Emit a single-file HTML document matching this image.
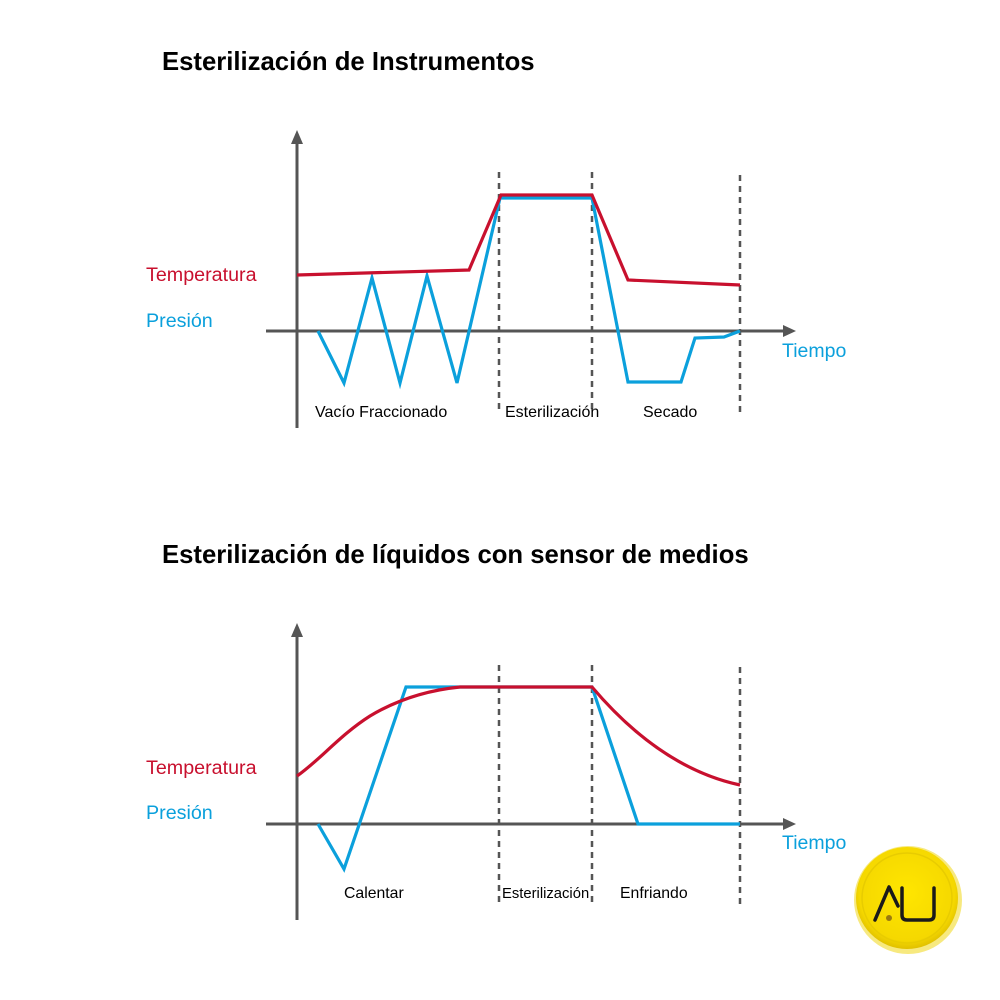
<!DOCTYPE html>
<html><head><meta charset="utf-8"><style>
body{margin:0;background:#fff;}
svg{display:block}
text{font-family:"Liberation Sans",Arial,sans-serif}
</style></head><body>
<svg width="1000" height="1000" viewBox="0 0 1000 1000">
<defs>
<radialGradient id="g" cx="50%" cy="45%" r="55%"><stop offset="0" stop-color="#ffe600"/><stop offset="0.85" stop-color="#f5d800"/><stop offset="1" stop-color="#e0c000"/></radialGradient>
</defs>
<rect width="1000" height="1000" fill="#fff"/>
<text x="162" y="70" font-size="25.7" font-weight="bold" fill="#000">Esterilización de Instrumentos</text>
<text x="162" y="563" font-size="25.7" font-weight="bold" fill="#000">Esterilización de líquidos con sensor de medios</text>

<g id="c1">
<g stroke="#555" stroke-width="3" fill="none">
<line x1="297" y1="140" x2="297" y2="428"/>
<line x1="266" y1="331" x2="788" y2="331"/>
</g>
<polygon points="297,130 291,144 303,144" fill="#555"/>
<polygon points="796,331 783,325 783,337" fill="#555"/>
<g stroke="#555" stroke-width="2.5" stroke-dasharray="6,5">
<line x1="499" y1="172" x2="499" y2="412"/>
<line x1="592" y1="172" x2="592" y2="412"/>
<line x1="740" y1="175" x2="740" y2="412"/>
</g>
<polyline points="318,331 344,383 372,278 400,383 427,276 457,383 500,198 592,198 628,382 681,382 695,338 724,337 740,331" fill="none" stroke="#0ba0dc" stroke-width="3.2" stroke-linejoin="miter"/>
<polyline points="297,275 469,270 501,195 592,195 628,280 740,285" fill="none" stroke="#c8102e" stroke-width="3.2"/>
<text x="146" y="281" font-size="19.7" fill="#c8102e">Temperatura</text>
<text x="146" y="327" font-size="19.7" fill="#0ba0dc">Presión</text>
<text x="782" y="357" font-size="19.5" fill="#0ba0dc">Tiempo</text>
<text x="315" y="417" font-size="16" fill="#000">Vacío Fraccionado</text>
<text x="505" y="417" font-size="16" fill="#000">Esterilización</text>
<text x="643" y="417" font-size="16" fill="#000">Secado</text>
</g>

<g>
<g stroke="#555" stroke-width="3" fill="none">
<line x1="297" y1="633" x2="297" y2="920"/>
<line x1="266" y1="824" x2="788" y2="824"/>
</g>
<polygon points="297,623 291,637 303,637" fill="#555"/>
<polygon points="796,824 783,818 783,830" fill="#555"/>
<g stroke="#555" stroke-width="2.5" stroke-dasharray="6,5">
<line x1="499" y1="665" x2="499" y2="905"/>
<line x1="592" y1="665" x2="592" y2="905"/>
<line x1="740" y1="667" x2="740" y2="905"/>
</g>
<polyline points="318,824 344,869 406,687 592,687 638,824 740,824" fill="none" stroke="#0ba0dc" stroke-width="3.2"/>
<path d="M297,776 C320,760 340,735 370,716 C400,698 430,690 460,687 L592,687 C620,720 670,770 740,785" fill="none" stroke="#c8102e" stroke-width="3.2"/>
<text x="146" y="774" font-size="19.7" fill="#c8102e">Temperatura</text>
<text x="146" y="819" font-size="19.7" fill="#0ba0dc">Presión</text>
<text x="782" y="849" font-size="19.5" fill="#0ba0dc">Tiempo</text>
<text x="344" y="898" font-size="15.8" fill="#000">Calentar</text>
<text x="502" y="898" font-size="14.8" fill="#000">Esterilización</text>
<text x="620" y="898" font-size="15.8" fill="#000">Enfriando</text>
</g>

<circle cx="908" cy="900" r="54" fill="#f0d400" opacity="0.5"/>
<circle cx="907" cy="898" r="51" fill="url(#g)"/>
<circle cx="907" cy="898" r="45" fill="none" stroke="#e8cc00" stroke-width="1.5"/>
<path d="M875,920 L889,887 L898,906" fill="none" stroke="#1a1a1a" stroke-width="3.5" stroke-linecap="round" stroke-linejoin="round"/>
<circle cx="889" cy="918" r="3" fill="#9a7a10"/>
<path d="M902,888 L902,915 Q902,920 907,920 L929,920 Q934,920 934,915 L934,888" fill="none" stroke="#1a1a1a" stroke-width="3.5" stroke-linecap="round"/>
</svg>
</body></html>
